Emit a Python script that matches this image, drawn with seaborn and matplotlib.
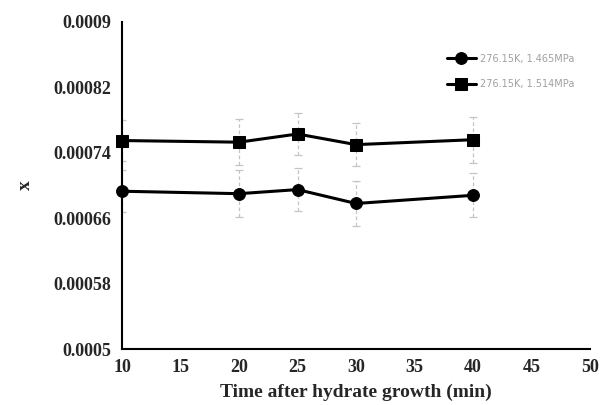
import matplotlib
matplotlib.use("Agg")
import matplotlib.pyplot as plt
import seaborn as sns
import pandas as pd
import numpy as np

time_min = [10, 20, 25, 30, 40]
x_1465 = [0.000693, 0.000690, 0.000695, 0.000678, 0.000688]
x_1514 = [0.000755, 0.000753, 0.000763, 0.000750, 0.000756]
err_1465 = [0.000026, 0.000029, 0.000026, 0.000027, 0.000027]
err_1514 = [0.000025, 0.000028, 0.000026, 0.000026, 0.000028]
labels = ["276.15K, 1.465MPa", "276.15K, 1.514MPa"]
x_ticks = [10, 15, 20, 25, 30, 35, 40, 45, 50]
y_ticks = [0.0005, 0.00058, 0.00066, 0.00074, 0.00082, 0.0009]
y_tick_labels = ["0.0005", "0.00058", "0.00066", "0.00074", "0.00082", "0.0009"]

sns.set_style("white")
plt.rcParams['font.family'] = ['Liberation Serif', 'DejaVu Serif']

df = pd.DataFrame({
    "time": time_min * 2,
    "x": x_1465 + x_1514,
    "series": [labels[0]] * len(time_min) + [labels[1]] * len(time_min),
})

fig = plt.figure(figsize=(6.02, 4.05), dpi=100)
ax = fig.add_axes([122/602, 1-349/405, (590-122)/602, (349-22)/405])

for vals, errs in [(x_1465, err_1465), (x_1514, err_1514)]:
    eb = ax.errorbar(time_min, vals, yerr=errs, fmt='none', ecolor='#c4c4c4',
                     elinewidth=0.9, capsize=3, capthick=0.9, zorder=1)
    eb[2][0].set_linestyle((0, (3, 2)))

sns.lineplot(data=df, x="time", y="x", hue="series", style="series",
             markers={labels[0]: 'o', labels[1]: 's'}, dashes=False,
             palette={labels[0]: 'black', labels[1]: 'black'},
             linewidth=2.2, markersize=8.5, markeredgecolor='black',
             ax=ax, zorder=3, clip_on=False)

ax.set_xlim(10, 50)
ax.set_ylim(0.0005, 0.0009)
ax.set_xticks(x_ticks)
ax.set_xticklabels([str(t) for t in x_ticks], fontsize=13, fontweight='bold')
ax.set_yticks(y_ticks)
ax.set_yticklabels(y_tick_labels, fontsize=13, fontweight='bold')
ax.tick_params(axis='x', length=0, pad=7)
ax.tick_params(axis='y', length=0, pad=8)
for s in ['top', 'right']:
    ax.spines[s].set_visible(False)
for s in ['left', 'bottom']:
    ax.spines[s].set_color('black')
    ax.spines[s].set_linewidth(1.5)

ax.set_xlabel("Time after hydrate growth (min)", fontsize=14, fontweight='bold', labelpad=6)
ax.set_ylabel("x", fontsize=14, fontweight='bold', labelpad=14)

leg = ax.legend(loc='upper right', bbox_to_anchor=(0.985, 0.93), frameon=False,
                fontsize=7, handlelength=3.0, handletextpad=0.4, labelspacing=1.6)
for t in leg.get_texts():
    t.set_color('#a0a0a0')
    t.set_fontfamily(['DejaVu Sans'])

fig.savefig("out.png", dpi=100)
